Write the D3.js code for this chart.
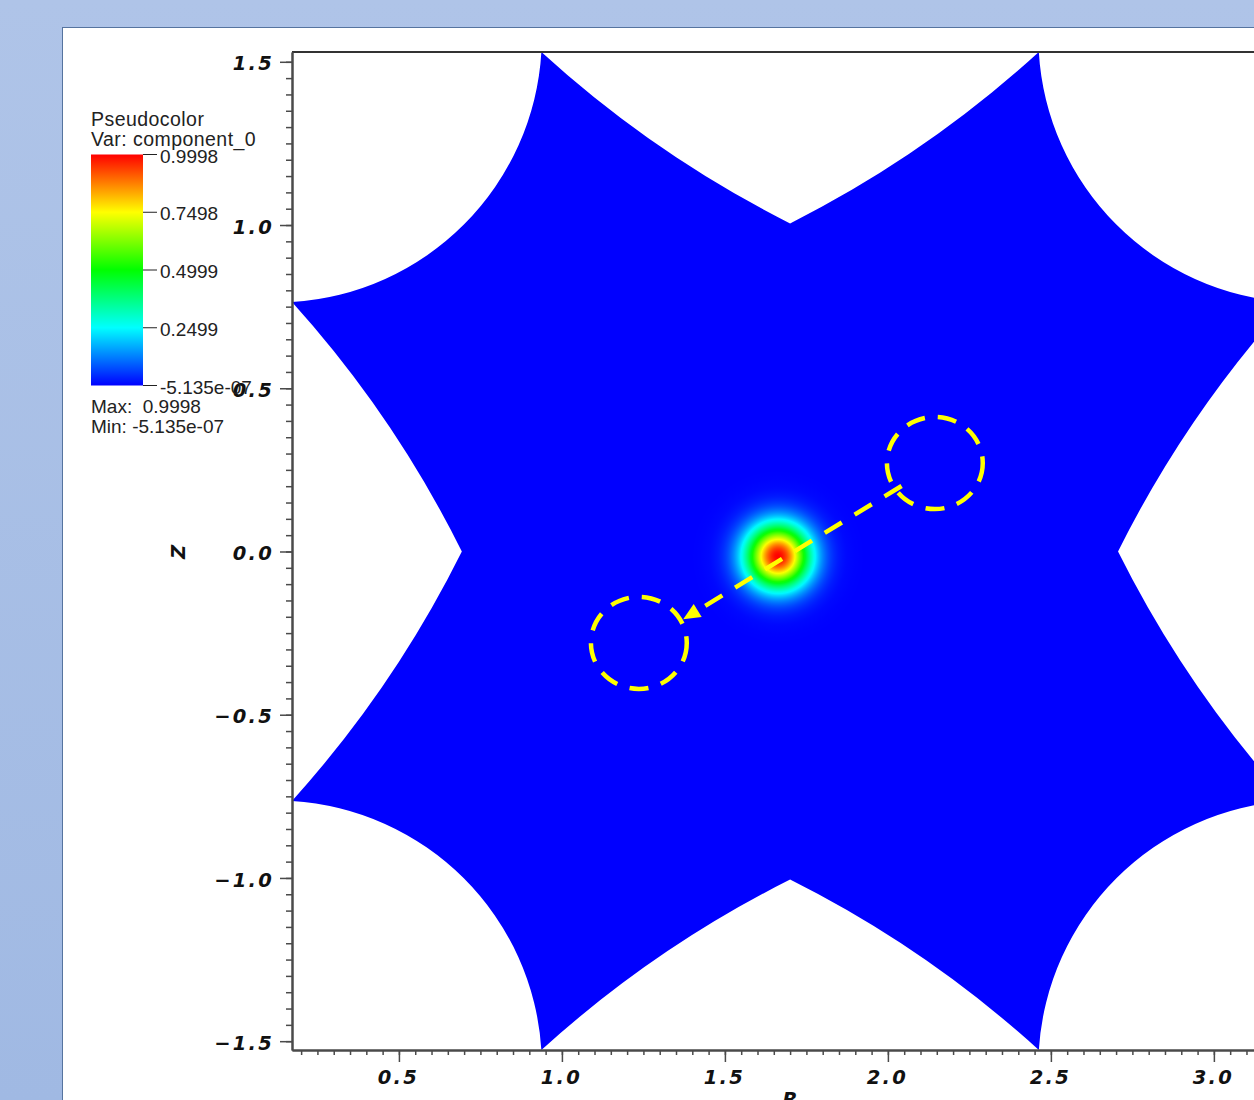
<!DOCTYPE html>
<html>
<head>
<meta charset="utf-8">
<script src="https://cdn.jsdelivr.net/npm/d3@7"></script>
<style>
  html, body { margin: 0; padding: 0; background: #a9c0e6; }
  svg { display: block; }
  .tick text, .axlabel { font-family: "DejaVu Sans", sans-serif; font-weight: bold; font-style: italic; fill: #111; }
  .legend text { font-family: "Liberation Sans", Arial, sans-serif; fill: #222; white-space: pre; }
</style>
</head>
<body>
<svg id="chart" width="1254" height="1100"></svg>
<script>
// ---- plot extents (R, Z) ----
const rLimits = [0.172, 3.228];
const zLimits = [-1.527, 1.530];

// ---- axis ticks ----
const rTicks = [0.5, 1.0, 1.5, 2.0, 2.5, 3.0];
const zTicks = [-1.5, -1.0, -0.5, 0.0, 0.5, 1.0, 1.5];

// ---- mesh outline: tips on the box edges and inner vertices, clockwise ----
const outlineR = [0.937, 1.700, 2.463, 3.228, 2.706, 3.228, 2.463, 1.700, 0.937, 0.172, 0.693, 0.172];
const outlineZ = [1.530, 1.005, 1.530, 0.764, 0.000, -0.764, -1.527, -1.005, -1.527, -0.764, 0.000, 0.764];
// radius of the arc leading from each vertex to the next one
const outlineArc = [3.4, 3.4, 0.816, 3.4, 3.4, 0.816, 3.4, 3.4, 0.816, 3.4, 3.4, 0.816];

// ---- field component_0: gaussian pulse ----
const pulseCenter = [1.663, -0.015];
const pulseSigma = 0.068;
const fieldMax = 0.9998;

// ---- colour table ----
const ctStops = [0, 0.25, 0.5, 0.75, 1];
const ctColors = ["#0000ff", "#00ffff", "#00ff00", "#ffff00", "#ff0000"];
const legendTicks = ["0.9998", "0.7498", "0.4999", "0.2499", "-5.135e-07"];
const legendTitle = ["Pseudocolor", "Var: component_0"];
const legendRange = ["Max:  0.9998", "Min: -5.135e-07"];

// ---- annotation: start / end positions of the pulse and the path between ----
const markerR = [2.144, 1.236];
const markerZ = [0.271, -0.280];
const markerRadius = [0.147, 0.141];
const pathFrom = [2.042, 0.2006];
const pathTo = [1.372, -0.2077];

const svg = d3.select("#chart");
const W = 1254, H = 1100;

const x = d3.scaleLinear().domain(rLimits).range([292, 1288.2]);
const y = d3.scaleLinear().domain(zLimits).range([1050, 52]);
const kx = x(1) - x(0), ky = y(0) - y(1);

const defs = svg.append("defs");

// window background
const bg = defs.append("linearGradient").attr("id", "bg").attr("x1", 0).attr("y1", 0).attr("x2", 0).attr("y2", 1);
bg.append("stop").attr("offset", 0).attr("stop-color", "#afc4e8");
bg.append("stop").attr("offset", 1).attr("stop-color", "#a0b9e3");
svg.append("rect").attr("width", W).attr("height", H).attr("fill", "url(#bg)");
svg.append("rect").attr("x", 62.5).attr("y", 27.5).attr("width", W).attr("height", H)
  .attr("fill", "#ffffff").attr("stroke", "#56749f").attr("stroke-width", 1);

// clip to plot box
defs.append("clipPath").attr("id", "plotclip").append("rect")
  .attr("x", x(rLimits[0])).attr("y", y(zLimits[1]))
  .attr("width", x(rLimits[1]) - x(rLimits[0])).attr("height", y(zLimits[0]) - y(zLimits[1]));

const plot = svg.append("g").attr("clip-path", "url(#plotclip)");

// mesh region
const color = d3.scaleLinear().domain(ctStops).range(ctColors).clamp(true);
const n = outlineR.length;
let d = `M${x(outlineR[0])},${y(outlineZ[0])}`;
for (let i = 0; i < n; i++) {
  const j = (i + 1) % n;
  const rad = outlineArc[i] * (kx + ky) / 2;
  d += `A${rad},${rad} 0 0 0 ${x(outlineR[j])},${y(outlineZ[j])}`;
}
d += "Z";
defs.append("clipPath").attr("id", "meshclip").append("path").attr("d", d);
plot.append("path").attr("d", d).attr("fill", color(0));

// pulse drawn as a radial gradient sampled from the gaussian
const pulseExtent = 0.26;
const rg = defs.append("radialGradient").attr("id", "pulse")
  .attr("cx", 0.5).attr("cy", 0.5).attr("r", 0.5);
d3.range(0, 51).forEach(k => {
  const t = k / 50;
  const rr = t * pulseExtent;
  const v = fieldMax * Math.exp(-(rr * rr) / (2 * pulseSigma * pulseSigma));
  rg.append("stop").attr("offset", t).attr("stop-color", color(v));
});
plot.append("g").attr("clip-path", "url(#meshclip)")
  .append("ellipse")
  .attr("cx", x(pulseCenter[0])).attr("cy", y(pulseCenter[1]))
  .attr("rx", pulseExtent * kx).attr("ry", pulseExtent * ky)
  .attr("fill", "url(#pulse)");

// annotation overlay
const yellow = "#ffff00";
plot.selectAll("ellipse.marker").data(markerR).join("ellipse")
  .attr("class", "marker")
  .attr("cx", dd => x(dd))
  .attr("cy", (dd, i) => y(markerZ[i]))
  .attr("rx", markerRadius[0] * kx)
  .attr("ry", markerRadius[1] * ky)
  .attr("fill", "none").attr("stroke", yellow).attr("stroke-width", 4.5)
  .attr("stroke-dasharray", "19,13");

defs.append("marker").attr("id", "arrow").attr("viewBox", "0 0 10 10")
  .attr("refX", 10).attr("refY", 5).attr("markerUnits", "userSpaceOnUse")
  .attr("markerWidth", 19).attr("markerHeight", 17).attr("orient", "auto")
  .append("path").attr("d", "M0,0.5L10,5L0,9.5Z").attr("fill", yellow);

const ax0 = x(pathFrom[0]), ay0 = y(pathFrom[1]), ax1 = x(pathTo[0]), ay1 = y(pathTo[1]);
const len = Math.hypot(ax1 - ax0, ay1 - ay0);
const ux = (ax1 - ax0) / len, uy = (ay1 - ay0) / len;
plot.append("line")
  .attr("x1", ax0).attr("y1", ay0)
  .attr("x2", ax1 - ux * 14).attr("y2", ay1 - uy * 14)
  .attr("stroke", yellow).attr("stroke-width", 4.5)
  .attr("stroke-dasharray", "20,15");
plot.append("line")
  .attr("x1", ax1 - ux * 16).attr("y1", ay1 - uy * 16)
  .attr("x2", ax1).attr("y2", ay1)
  .attr("stroke", "none")
  .attr("marker-end", "url(#arrow)");

// ---- axes ----
const fmt = d3.format(".1f");
const minorR = d3.range(4, 65).map(k => +(k * 0.05).toFixed(2)).filter(v => v >= rLimits[0] && v <= rLimits[1]);
const minorZ = d3.range(-30, 31).map(k => +(k * 0.05).toFixed(2));
const axisColor = "#4a4a4a";

// top frame line
svg.append("line").attr("x1", x(rLimits[0])).attr("x2", x(rLimits[1]))
  .attr("y1", y(zLimits[1])).attr("y2", y(zLimits[1]))
  .attr("stroke", "#333").attr("stroke-width", 2);

const gyMinor = svg.append("g").attr("transform", `translate(${x(rLimits[0])},0)`)
  .call(d3.axisLeft(y).tickValues(minorZ).tickSize(6).tickFormat("").tickSizeOuter(0));
const gy = svg.append("g").attr("transform", `translate(${x(rLimits[0])},0)`)
  .call(d3.axisLeft(y).tickValues(zTicks).tickSize(12).tickPadding(8).tickFormat(fmt).tickSizeOuter(0));

const gxMinor = svg.append("g").attr("transform", `translate(0,${y(zLimits[0])})`)
  .call(d3.axisBottom(x).tickValues(minorR).tickSize(5).tickFormat("").tickSizeOuter(0));
const gx = svg.append("g").attr("transform", `translate(0,${y(zLimits[0])})`)
  .call(d3.axisBottom(x).tickValues(rTicks).tickSize(12).tickPadding(8).tickFormat(fmt).tickSizeOuter(0));

[gy, gyMinor, gx, gxMinor].forEach(g => {
  g.select(".domain").attr("stroke", axisColor).attr("stroke-width", 2);
  g.selectAll(".tick line").attr("stroke", axisColor).attr("stroke-width", 1.5);
});
[gy, gx].forEach(g => g.selectAll(".tick text")
  .attr("font-size", 19.5).attr("letter-spacing", 2.2));
gy.selectAll(".tick text").attr("dy", "0.42em").attr("dx", 2);
gx.selectAll(".tick text").attr("dx", -1);

svg.append("text").attr("class", "axlabel")
  .attr("transform", "translate(185,552) rotate(-90)")
  .attr("text-anchor", "middle").attr("font-size", 19.5).text("Z");
svg.append("text").attr("class", "axlabel")
  .attr("x", 790).attr("y", 1106)
  .attr("text-anchor", "middle").attr("font-size", 19.5).text("R");

// ---- legend ----
const lg = svg.append("g").attr("class", "legend");
legendTitle.forEach((t, i) => lg.append("text")
  .attr("x", 91).attr("y", 126 + i * 19.5).attr("font-size", 19.5)
  .attr("letter-spacing", 0.45).text(t));

const barTop = 154.5, barBottom = 385.5, barLeft = 91, barRight = 143;
const cb = defs.append("linearGradient").attr("id", "cbar").attr("x1", 0).attr("y1", 1).attr("x2", 0).attr("y2", 0);
ctStops.forEach((s, i) => cb.append("stop").attr("offset", s).attr("stop-color", ctColors[i]));
lg.append("rect").attr("x", barLeft).attr("y", barTop)
  .attr("width", barRight - barLeft).attr("height", barBottom - barTop)
  .attr("fill", "url(#cbar)");

const ly = d3.scaleLinear().domain([0, legendTicks.length - 1]).range([barTop, barBottom]);
legendTicks.forEach((t, i) => {
  lg.append("line").attr("x1", barRight).attr("x2", barRight + 14)
    .attr("y1", ly(i)).attr("y2", ly(i)).attr("stroke", "#222").attr("stroke-width", 1);
  lg.append("text").attr("x", barRight + 17).attr("y", ly(i) + 8).attr("font-size", 19).text(t);
});
legendRange.forEach((t, i) => lg.append("text")
  .attr("x", 91).attr("y", 413 + i * 20).attr("font-size", 19).text(t));
</script>
</body>
</html>
